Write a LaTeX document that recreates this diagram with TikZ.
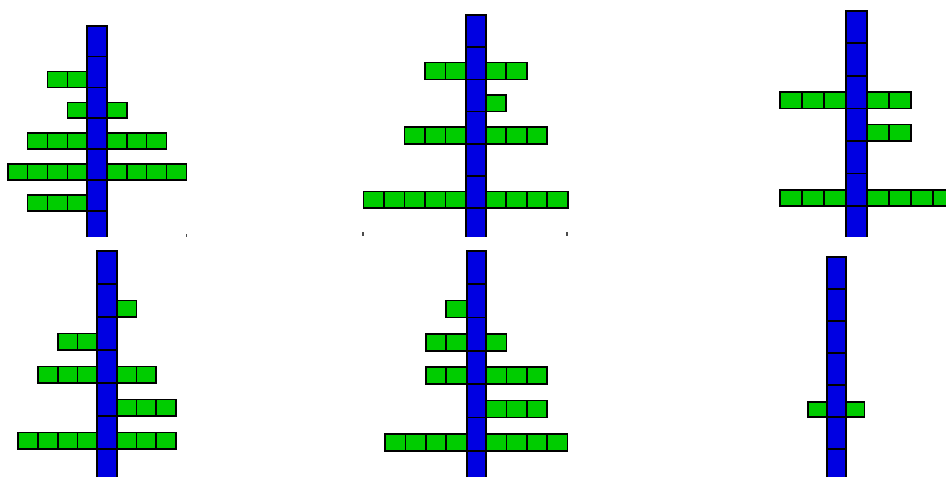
\documentclass[tikz,border=0pt]{standalone}
\definecolor{cellblue}{RGB}{0,0,226}
\definecolor{cellgreen}{RGB}{0,204,0}
\tikzset{
  bluefill/.style={fill=cellblue},
  greenfill/.style={fill=cellgreen},
  celledge/.style={draw=black,line width=1.7pt},
  tickmark/.style={draw=black!70,line width=1.2pt}
}
% #1 blue left x, #2 blue width, #3 green width, #4 top y, #5 blue cell height, #6 green height, #7 rows cell/left/right, #8 style
\newcommand{\treepass}[8]{%
  \foreach \gc/\gl/\gr in {#7}{%
    \ifnum\gl>0
      \foreach \k in {1,...,\gl}
        \path[greenfill,#8] ({#1-\k*#3},{#4+(\gc+1)*#5}) rectangle ++(#3,-#6);
    \fi
    \ifnum\gr>0
      \foreach \k in {1,...,\gr}
        \path[greenfill,#8] ({#1+#2+(\k-1)*#3},{#4+(\gc+1)*#5}) rectangle ++(#3,-#6);
    \fi
  }
  \foreach \i in {0,...,6}
    \path[bluefill,#8] (#1,{#4+\i*#5}) rectangle ++(#2,#5);
}
\newcommand{\drawtree}[7]{%
  \treepass{#1}{#2}{#3}{#4}{#5}{#6}{#7}{}%
  \treepass{#1}{#2}{#3}{#4}{#5}{#6}{#7}{fill=none,celledge}%
}
\begin{document}
\begin{tikzpicture}[x=1pt,y=-1pt]
\useasboundingbox[fill=white] (0,0) rectangle (946,477);
% top row
\begin{scope}
  \clip (0,0) rectangle (946,236);
  \drawtree{87.3}{19.5}{19.9}{25.7}{30.85}{15.8}{1/2/0,2/1/1,3/3/3,4/4/4,5/3/0}
  \drawtree{466}{19.7}{20.5}{15}{32.2}{16.8}{1/2/2,2/0/1,3/3/3,5/5/4}
  \drawtree{846}{20.7}{22.1}{10.7}{32.55}{16.3}{2/3/2,3/0/2,5/3/4}
\end{scope}
\draw[tickmark] (186.5,234) -- (186.5,237);
\draw[tickmark] (363,232) -- (363,236);
\draw[tickmark] (567,232) -- (567,236);
% bottom row
\begin{scope}
  \clip (0,240) rectangle (946,477);
  \drawtree{97.3}{19.4}{19.8}{251}{33}{16.5}{1/0/1,2/2/0,3/3/2,4/0/3,5/4/3}
  \drawtree{466.7}{19.3}{20.4}{251}{33.3}{17}{1/1/0,2/2/1,3/2/3,4/0/3,5/4/4}
  \drawtree{827}{18.7}{18.8}{256.7}{32.1}{15.2}{4/1/1}
\end{scope}
\end{tikzpicture}
\end{document}
